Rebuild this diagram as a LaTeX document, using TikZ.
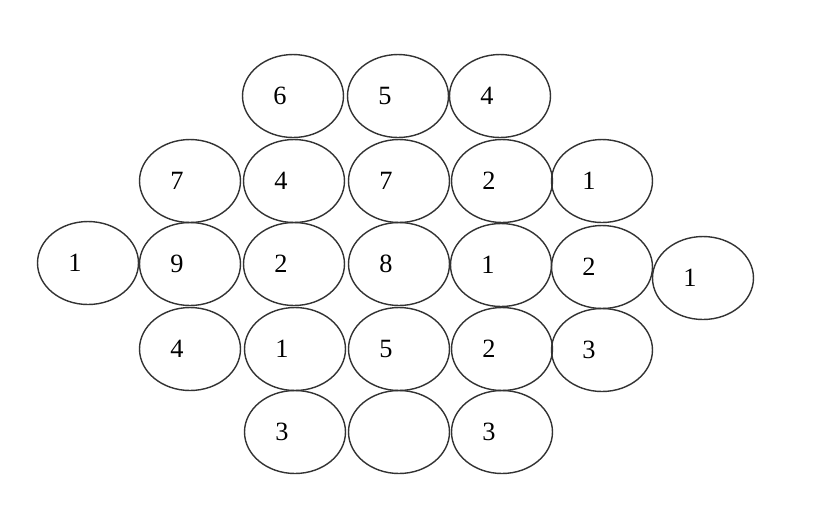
\documentclass[tikz,border=0pt]{standalone}
\usepackage{fontspec}
\setmainfont{Liberation Serif}
\usepackage{tikz}
\usetikzlibrary{shapes.geometric, positioning}

\tikzset{
    cell/.style={ellipse, draw=black!80, line width=0.8pt, minimum width=2.02cm, minimum height=1.66cm, inner sep=0pt,
                 label={[xshift=-0.26cm, font=\fontsize{15}{18}\selectfont]center:#1}}
}

\begin{document}
\begin{tikzpicture}[x=0.02cm, y=-0.02cm]
                        \useasboundingbox (0,0) rectangle (826,529);
                        % top row
                        \node [cell=6] (six) at (293, 96) {};
                        \node [cell=5] (five) at (398, 96) {};
                        \node [cell=4] (four) at (500, 96) {};
                        % second row
                        \node [cell=7] (sseven) at (190, 181) {};
                        \node [cell=4] (ffour) at (294, 181) {};
                        \node [cell=7] (seven) at (399, 181) {};
                        \node [cell=2] (two) at (502, 181) {};
                        \node [cell=1] (one) at (602, 181) {};
                        % middle row
                        \node [cell=1] (oone) at (88, 263) {};
                        \node [cell=9] (nine) at (190, 264) {};
                        \node [cell=2] (ttwo) at (294, 264) {};
                        \node [cell=8] (eight) at (399, 264) {};
                        \node [cell=1] (ooone) at (501, 265) {};
                        \node [cell=2] (tttwo) at (602, 267) {};
                        \node [cell=1] (oooone) at (703, 278) {};
                        % fourth row
                        \node [cell=4] (fffour) at (190, 349) {};
                        \node [cell=1] (ooooone) at (295, 349) {};
                        \node [cell=5] (ffive) at (399, 349) {};
                        \node [cell=2] (ttttwo) at (502, 349) {};
                        \node [cell=3] (three) at (602, 350) {};
                        % bottom row
                        \node [cell=3] (tthree) at (295, 432) {};
                        \node [cell=] (blank) at (399, 432) {};
                        \node [cell=3] (ttthree) at (502, 432) {};
                    \end{tikzpicture}
\end{document}
